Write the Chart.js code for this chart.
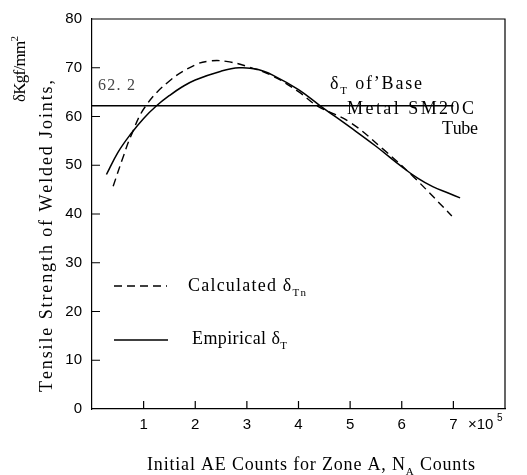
<!DOCTYPE html>
<html>
<head>
<meta charset="utf-8">
<script src="https://cdn.jsdelivr.net/npm/chart.js@4"></script>
<style>
  html, body { margin: 0; padding: 0; background: #fff; }
  canvas { display: block; }
</style>
</head>
<body>
<canvas id="chart" width="527" height="475"></canvas>
<script>
// values (x in units of 10^5 counts)
var calcX = [0.41, 0.6, 0.75, 1.03, 1.5, 2.0, 2.3, 2.6, 3.0, 3.5, 4.0, 4.36, 5.0, 5.65, 6.23, 6.97];
var calcY = [45.7, 51.6, 55.9, 62.0, 67.3, 70.6, 71.4, 71.3, 70.3, 68.3, 65.1, 62.2, 58.8, 53.2, 47.6, 39.6];
var empX  = [0.28, 0.5, 0.75, 1.0, 1.25, 1.5, 1.75, 2.0, 2.5, 2.85, 3.2, 3.5, 4.0, 4.42, 5.0, 5.5, 6.0, 6.3, 6.6, 6.9, 7.13];
var empY  = [48.1, 52.6, 56.4, 59.6, 62.2, 64.3, 66.1, 67.5, 69.3, 70.0, 69.7, 68.5, 65.5, 62.2, 57.8, 53.9, 49.7, 47.4, 45.6, 44.3, 43.3];
var baseX = [0, 7];
var baseValue = 62.2;
var yTicks = [0, 10, 20, 30, 40, 50, 60, 70, 80];
var xTicks = [1, 2, 3, 4, 5, 6, 7];

var SERIF = '"Liberation Serif", "DejaVu Serif", serif';
var SANS  = '"Liberation Sans", Arial, sans-serif';

function toPoints(xs, ys) {
  return xs.map(function(x, i) { return { x: x, y: ys[i] }; });
}

// draws text char by char so it can be stretched to the width seen in the scan
function drawText(ctx, parts, x, y, size, target, align) {
  var chars = [];
  parts.forEach(function(p) {
    var sz = p[1] ? Math.round(size * 0.62) : size;
    ctx.font = sz + 'px ' + SERIF;
    Array.from(p[0]).forEach(function(c) {
      chars.push({ c: c, sz: sz, w: ctx.measureText(c).width, m: p[1] });
    });
  });
  var natural = 0;
  chars.forEach(function(o) { natural += o.w; });
  var gap = target ? (target - natural) / (chars.length - 1) : 0;
  var total = natural + gap * (chars.length - 1);
  var cx = align === 'center' ? x - total / 2 : align === 'right' ? x - total : x;
  ctx.textAlign = 'left';
  ctx.textBaseline = 'alphabetic';
  chars.forEach(function(o) {
    ctx.font = o.sz + 'px ' + SERIF;
    var dy = o.m === 'sub' ? size * 0.28 : o.m === 'sup' ? -size * 0.42 : 0;
    ctx.fillText(o.c, cx, y + dy);
    cx += o.w + gap;
  });
}

var decorations = {
  id: 'decorations',
  afterDraw: function(chart) {
    var ctx = chart.ctx;
    var area = chart.chartArea;
    var xs = chart.scales.x, ys = chart.scales.y;
    ctx.save();
    ctx.strokeStyle = '#000';
    ctx.fillStyle = '#000';
    ctx.lineWidth = 1.2;

    // top and right frame
    ctx.beginPath();
    ctx.moveTo(area.left, area.top);
    ctx.lineTo(area.right, area.top);
    ctx.lineTo(area.right, area.bottom);
    ctx.stroke();

    // inner tick marks
    ctx.beginPath();
    yTicks.forEach(function(v) {
      if (v === 0 || v === 80) return;
      var py = ys.getPixelForValue(v);
      ctx.moveTo(area.left, py);
      ctx.lineTo(area.left + 8, py);
    });
    xTicks.forEach(function(v) {
      var px = xs.getPixelForValue(v);
      ctx.moveTo(px, area.bottom);
      ctx.lineTo(px, area.bottom - 8);
    });
    ctx.stroke();

    // x10^5
    ctx.font = '15px ' + SANS;
    ctx.textAlign = 'left';
    ctx.textBaseline = 'alphabetic';
    ctx.fillText('\u00d710', 468, 429);
    ctx.font = '10px ' + SANS;
    ctx.fillText('5', 497, 421);

    // annotations
    ctx.fillStyle = '#444';
    drawText(ctx, [['62. 2', '']], 98, 90, 16, 37, 'left');
    ctx.fillStyle = '#000';
    drawText(ctx, [['\u03b4', ''], ['T', 'sub'], [' of\u2019Base', '']], 330, 89, 18, 92, 'left');
    drawText(ctx, [['Metal SM20C', '']], 347, 114, 18, 127, 'left');
    drawText(ctx, [['Tube', '']], 478, 134, 18, 36, 'right');

    // legend
    ctx.lineWidth = 1.4;
    ctx.setLineDash([8, 5]);
    ctx.beginPath();
    ctx.moveTo(114, 286);
    ctx.lineTo(167, 286);
    ctx.stroke();
    ctx.setLineDash([]);
    ctx.beginPath();
    ctx.moveTo(114, 340);
    ctx.lineTo(168, 340);
    ctx.stroke();
    drawText(ctx, [['Calculated \u03b4', ''], ['Tn', 'sub']], 188, 291, 18, 118, 'left');
    drawText(ctx, [['Empirical \u03b4', ''], ['T', 'sub']], 192, 344, 18, 95, 'left');

    // axis titles
    drawText(ctx, [['Initial AE Counts for Zone A, N', ''], ['A', 'sub'], [' Counts', '']], 311, 470, 18, 328, 'center');
    ctx.save();
    ctx.translate(52, 236);
    ctx.rotate(-Math.PI / 2);
    drawText(ctx, [['Tensile Strength of Welded Joints,', '']], 0, 0, 18, 312, 'center');
    ctx.restore();
    ctx.save();
    ctx.translate(25, 69);
    ctx.rotate(-Math.PI / 2);
    drawText(ctx, [['\u03b4Kgf/mm', ''], ['2', 'sup']], 0, 0, 17, 66, 'center');
    ctx.restore();

    ctx.restore();
  }
};

new Chart(document.getElementById('chart'), {
  type: 'scatter',
  data: {
    datasets: [
      {
        label: 'Calculated',
        data: toPoints(calcX, calcY),
        showLine: true,
        borderColor: '#000',
        borderWidth: 1.4,
        borderDash: [8, 5],
        pointRadius: 0,
        tension: 0.4
      },
      {
        label: 'Empirical',
        data: toPoints(empX, empY),
        showLine: true,
        borderColor: '#000',
        borderWidth: 1.5,
        pointRadius: 0,
        tension: 0.4
      },
      {
        label: 'Base metal',
        data: baseX.map(function(x) { return { x: x, y: baseValue }; }),
        showLine: true,
        borderColor: '#000',
        borderWidth: 1.5,
        pointRadius: 0
      }
    ]
  },
  options: {
    responsive: false,
    animation: false,
    layout: { padding: { left: 0, top: 7, right: 22, bottom: 0 } },
    plugins: { legend: { display: false }, tooltip: { enabled: false } },
    scales: {
      x: {
        type: 'linear',
        min: 0,
        max: 8,
        afterBuildTicks: function(scale) {
          scale.ticks = xTicks.map(function(v) { return { value: v }; });
        },
        afterFit: function(scale) { scale.height = 66; },
        grid: { drawOnChartArea: false, drawTicks: false },
        border: { color: '#000', width: 1.2 },
        ticks: { color: '#000', padding: 7, maxRotation: 0, font: { family: SANS, size: 15 } }
      },
      y: {
        min: 0,
        max: 80,
        afterBuildTicks: function(scale) {
          scale.ticks = yTicks.map(function(v) { return { value: v }; });
        },
        afterFit: function(scale) { scale.width = 92; },
        grid: { drawOnChartArea: false, drawTicks: false },
        border: { color: '#000', width: 1.2 },
        ticks: { color: '#000', padding: 10, font: { family: SANS, size: 15 } }
      }
    }
  },
  plugins: [decorations]
});
</script>
</body>
</html>
